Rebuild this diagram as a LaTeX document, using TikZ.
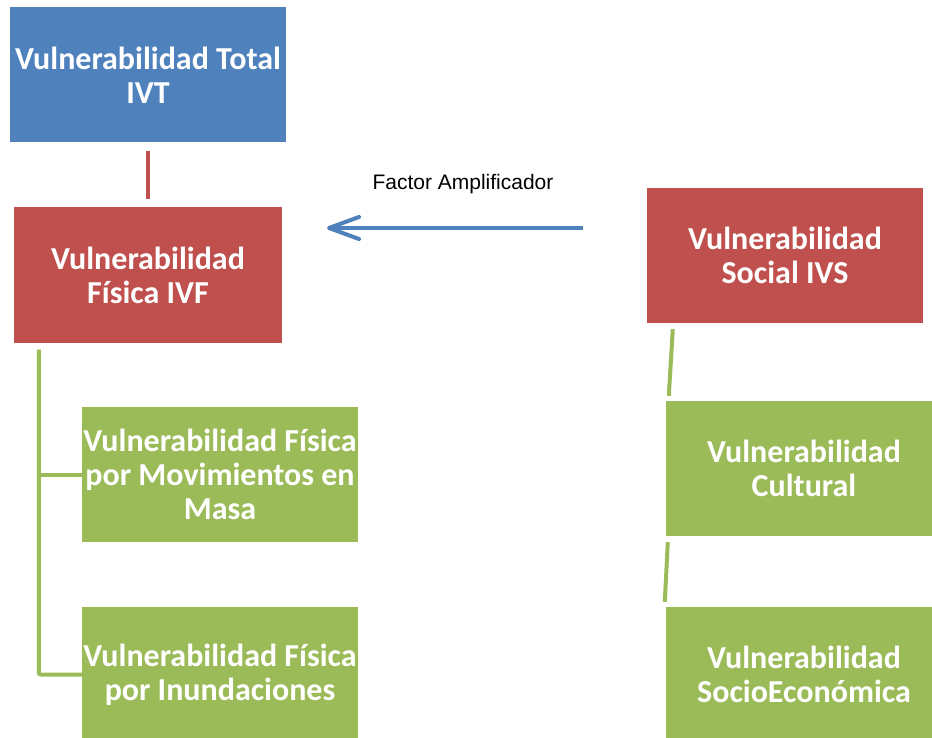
\documentclass[tikz,border=0pt]{standalone}
\usepackage{fontspec}
\setmainfont{Carlito}
\newfontfamily\arialfont{Liberation Sans}
\usepackage{xcolor}
\usetikzlibrary{arrows.meta}

\definecolor{ivtblue}{HTML}{4F81BD}
\definecolor{ivred}{HTML}{C0504D}
\definecolor{ivgreen}{HTML}{9BBB59}

\begin{document}
\begin{tikzpicture}[
    x=1pt, y=-1pt,
    box/.style={rectangle, fill=#1, text=white, align=center, inner sep=0pt, minimum width=276pt, minimum height=135pt, font=\fontsize{32}{34}\selectfont\bfseries},
    link/.style={draw=#1, line width=4pt},
    arrow/.style={-{Straight Barb[length=30pt, width=22pt, round]}, draw=ivtblue, line width=4pt}
]
\useasboundingbox (0,0) rectangle (932,738);

\node[box=ivtblue] (ivt) at (148,75) {Vulnerabilidad Total\\IVT};
\node[box=ivred, minimum width=268pt] (ivf) at (148,275) {Vulnerabilidad\\Física IVF};
\node[box=ivred] (ivs) at (785,255.5) {Vulnerabilidad\\Social IVS};
\node[box=ivgreen] (masa) at (220,474.5) {Vulnerabilidad Física\\por Movimientos en\\Masa};
\node[box=ivgreen] (inund) at (220,674.5) {Vulnerabilidad Física\\por Inundaciones};
\node[box=ivgreen] (cultural) at (804,468.5) {Vulnerabilidad\\Cultural};
\node[box=ivgreen] (socioeco) at (804,674.5) {Vulnerabilidad\\SocioEconómica};

% factor amplificador
\coordinate (ampfrom) at (583,228);
\coordinate (ampto) at (327,228);
\draw[arrow] (ampfrom) -- (ampto);
\node[font=\arialfont\fontsize{21}{25}\selectfont] (amplabel) at (463,184) {Factor Amplificador};

\draw[link=ivred] ([yshift=-8pt]ivt.south) -- ([yshift=8pt]ivf.north);

% rama fisica
\coordinate (trunk) at ([xshift=25pt,yshift=-7pt]ivf.south west);
\draw[link=ivgreen, rounded corners=2pt] (trunk) |- (inund.west);
\draw[link=ivgreen] (trunk |- masa.west) -- (masa.west);

% rama social
\draw[link=ivgreen] ([xshift=26pt,yshift=-6pt]ivs.south west) -- ([xshift=3pt,yshift=5pt]cultural.north west);
\draw[link=ivgreen] ([xshift=2pt,yshift=-6pt]cultural.south west) -- ([xshift=-1pt,yshift=5pt]socioeco.north west);
\end{tikzpicture}
\end{document}
